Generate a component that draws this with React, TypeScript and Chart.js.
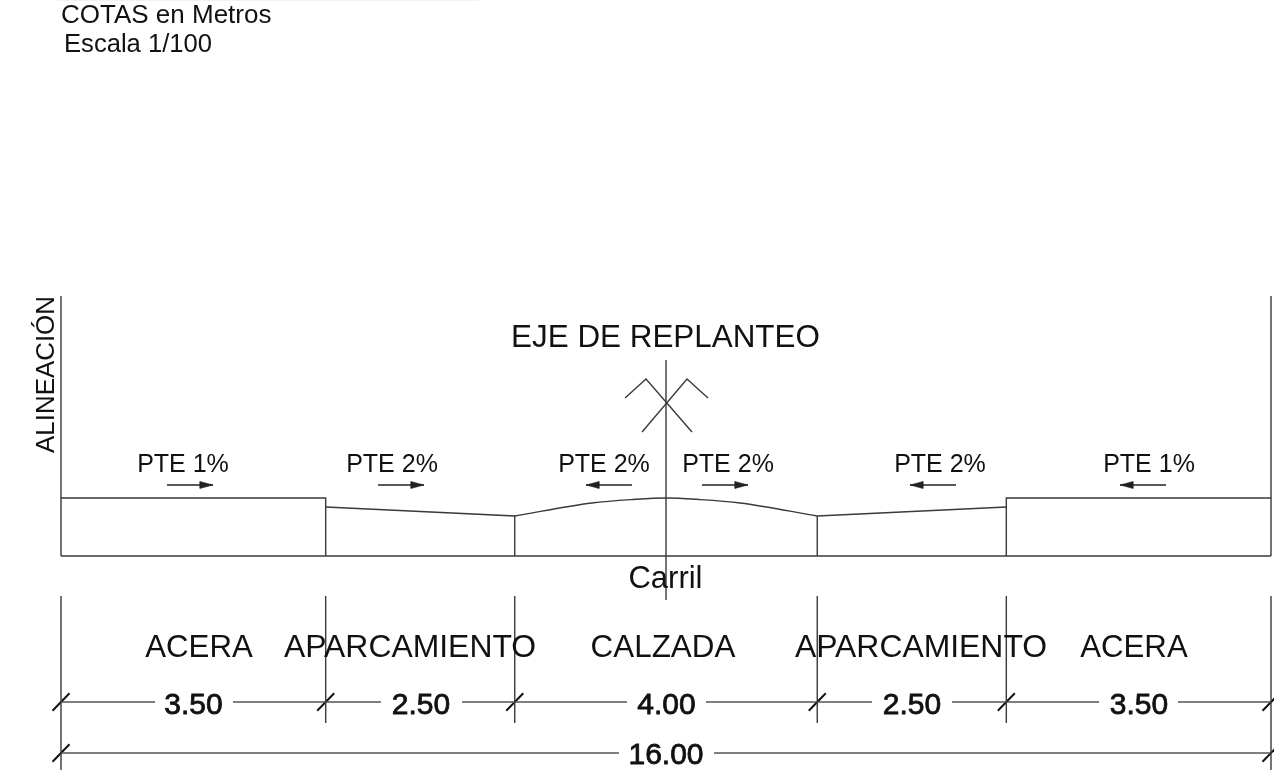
import React, { useEffect, useRef } from "react";
import { Chart, registerables } from "chart.js";

Chart.register(...registerables);

type Pt = [number, number];

// Stations along the cross-section, in metres
const stations = [0, 3.5, 6, 10, 12.5, 16];
const segmentWidths = ["3.50", "2.50", "4.00", "2.50", "3.50"];
const totalWidth = "16.00";
const segmentNames = ["ACERA", "APARCAMIENTO", "CALZADA", "APARCAMIENTO", "ACERA"];
const slopeLabels = ["PTE 1%", "PTE 2%", "PTE 2%", "PTE 2%", "PTE 2%", "PTE 1%"];

// Surface profile (x metres, height metres above the base)
const leftSidewalk: Pt[] = [[0, 0], [0, 0.767], [3.5, 0.767], [3.5, 0]];
const leftParking: Pt[] = [[3.5, 0.648], [6, 0.529], [6, 0]];
const crown: Pt[] = [[6, 0.529], [7.021, 0.701], [7.564, 0.747], [8, 0.767], [8.436, 0.747], [8.979, 0.701], [10, 0.529]];
const rightCurb: Pt[] = [[10, 0.529], [10, 0]];
const rightParking: Pt[] = [[10, 0.529], [12.5, 0.648]];
const rightSidewalk: Pt[] = [[12.5, 0], [12.5, 0.767], [16, 0.767], [16, 0]];
const baseLine: Pt[] = [[0, 0], [16, 0]];
const alignmentLeft: Pt[] = [[0, 0.767], [0, 3.438]];
const alignmentRight: Pt[] = [[16, 0.767], [16, 3.438]];

// Axis symbol
const axisLine: Pt[] = [[8, 2.592], [8, -0.582]];
const axisArmA: Pt[] = [[7.458, 2.089], [7.736, 2.341], [8.344, 1.64]];
const axisArmB: Pt[] = [[8.555, 2.089], [8.278, 2.341], [7.683, 1.64]];

// Dimension lines
const extensionTop = -0.529;
const extensionBottom = -2.208;
const extensionOuterBottom = -2.83;
const dimRowY = -1.931;
const totalRowY = -2.605;
const dimSegments: Pt[] = [
  [0, 1.243], [2.274, 3.5], [3.5, 4.231], [5.303, 6], [6, 7.484], [8.529, 10],
  [10, 10.724], [11.782, 12.5], [12.5, 13.726], [14.77, 16],
];
const totalSegments: Pt[] = [[0, 7.379], [8.635, 16]];

// Slope arrows: tail x, tip x
const arrowRowY = 0.939;
const slopeArrows: Pt[] = [
  [1.402, 2.01], [4.192, 4.8], [7.55, 6.942], [8.476, 9.084], [11.835, 11.226], [14.612, 14.003],
];

const headerRule: Pt[] = [[-0.053, 7.352], [5.527, 7.352]];

// Label anchors in metres
const slopeLabelX = [1.613, 4.377, 7.18, 8.82, 11.623, 14.387];
const nameLabelX = [1.825, 4.615, 7.96, 11.372, 14.188];
const nameLabelSize = [31.2, 31.9, 31.4, 31.9, 31.2];
const widthLabelX = [1.752, 4.76, 8.007, 11.253, 14.255];

const PX_PER_M = 75.625;
const LINE = "#3a3a3a";
const FONT = '"Liberation Sans", Arial, sans-serif';

const pts = (a: Pt[]) => a.map(([x, y]) => ({ x, y }));
const line = (a: Pt[], color = LINE, borderWidth = 1.4) => ({
  data: pts(a),
  showLine: true,
  borderColor: color,
  backgroundColor: color,
  borderWidth,
  pointRadius: 0,
  fill: false,
  tension: 0,
});

type Label = { t: string; x: number; y: number; size: number; align?: CanvasTextAlign; heavy?: boolean; rot?: boolean };

const labels: Label[] = [
  { t: "COTAS en Metros", x: 0, y: 7.048, size: 26, align: "left" },
  { t: "Escala 1/100", x: 0.04, y: 6.664, size: 25.6, align: "left" },
  { t: "EJE DE REPLANTEO", x: 7.993, y: 2.764, size: 31.4 },
  { t: "Carril", x: 7.993, y: -0.423, size: 31 },
  { t: "ALINEACIÓN", x: -0.093, y: 2.4, size: 25.9, rot: true },
  ...slopeLabels.map((t, i) => ({ t, x: slopeLabelX[i], y: 1.111, size: 25 })),
  ...segmentNames.map((t, i) => ({ t, x: nameLabelX[i], y: -1.335, size: nameLabelSize[i] })),
  ...segmentWidths.map((t, i) => ({ t, x: widthLabelX[i], y: -2.089, size: 30, heavy: true })),
  { t: totalWidth, x: 8, y: -2.75, size: 30, heavy: true },
];

const labelPlugin = {
  id: "drawingLabels",
  afterDatasetsDraw(chart: any) {
    const { ctx, scales } = chart;
    ctx.save();
    ctx.fillStyle = "#111";
    ctx.strokeStyle = "#111";
    ctx.textBaseline = "alphabetic";
    for (const l of labels) {
      ctx.save();
      ctx.translate(scales.x.getPixelForValue(l.x), scales.y.getPixelForValue(l.y));
      if (l.rot) ctx.rotate(-Math.PI / 2);
      ctx.font = `${l.size}px ${FONT}`;
      ctx.textAlign = l.align ?? "center";
      ctx.fillText(l.t, 0, 0);
      if (l.heavy) {
        ctx.lineWidth = 0.8;
        ctx.strokeText(l.t, 0, 0);
      }
      ctx.restore();
    }
    ctx.restore();
  },
};

export default function App() {
  const ref = useRef<HTMLCanvasElement>(null);
  useEffect(() => {
    const halfTickX = 8.5 / PX_PER_M;
    const halfTickY = 8.75 / PX_PER_M;
    const tick = (x: number, y: number): Pt[] => [[x - halfTickX, y - halfTickY], [x + halfTickX, y + halfTickY]];
    const HEAD = 13 / PX_PER_M;
    const HALF = 3.5 / PX_PER_M;

    const datasets: any[] = [
      line(headerRule, "#eeeeee", 1.5),
      line(leftSidewalk),
      line(leftParking),
      { ...line(crown), cubicInterpolationMode: "monotone" },
      line(rightCurb),
      line(rightParking),
      line(rightSidewalk),
      line(baseLine),
      line(alignmentLeft),
      line(alignmentRight),
      line(axisLine),
      line(axisArmA),
      line(axisArmB),
      ...stations.map((x) => line([[x, extensionTop], [x, x === 0 || x === 16 ? extensionOuterBottom : extensionBottom]])),
      ...dimSegments.map(([a, b]) => line([[a, dimRowY], [b, dimRowY]], "#555555")),
      ...totalSegments.map(([a, b]) => line([[a, totalRowY], [b, totalRowY]], "#555555")),
      ...stations.map((x) => line(tick(x, dimRowY), "#111111", 2)),
      line(tick(0, totalRowY), "#111111", 2),
      line(tick(16, totalRowY), "#111111", 2),
      ...slopeArrows.map(([a, b]) => line([[a, arrowRowY], [b, arrowRowY]], "#222222", 1.3)),
      ...slopeArrows.map(([a, b]) => {
        const dir = b > a ? 1 : -1;
        return {
          ...line([[b, arrowRowY], [b - dir * HEAD, arrowRowY + HALF], [b - dir * HEAD, arrowRowY - HALF], [b, arrowRowY]], "#222222", 0.5),
          fill: "shape",
        };
      }),
    ];

    const chart = new Chart(ref.current!, {
      type: "scatter",
      data: { datasets },
      plugins: [labelPlugin],
      options: {
        animation: false,
        responsive: false,
        layout: { padding: 0 },
        plugins: { legend: { display: false }, tooltip: { enabled: false } },
        scales: {
          x: { type: "linear", display: false, min: -61 / PX_PER_M, max: 1213 / PX_PER_M },
          y: { type: "linear", display: false, min: -214 / PX_PER_M, max: 556 / PX_PER_M },
        },
      },
    } as any);
    return () => chart.destroy();
  }, []);

  return (
    <div style={{ position: "fixed", left: 0, top: 0, width: 1274, height: 770, background: "#fff", overflow: "hidden" }}>
      <canvas ref={ref} width={1274} height={770} style={{ display: "block" }} />
    </div>
  );
}
